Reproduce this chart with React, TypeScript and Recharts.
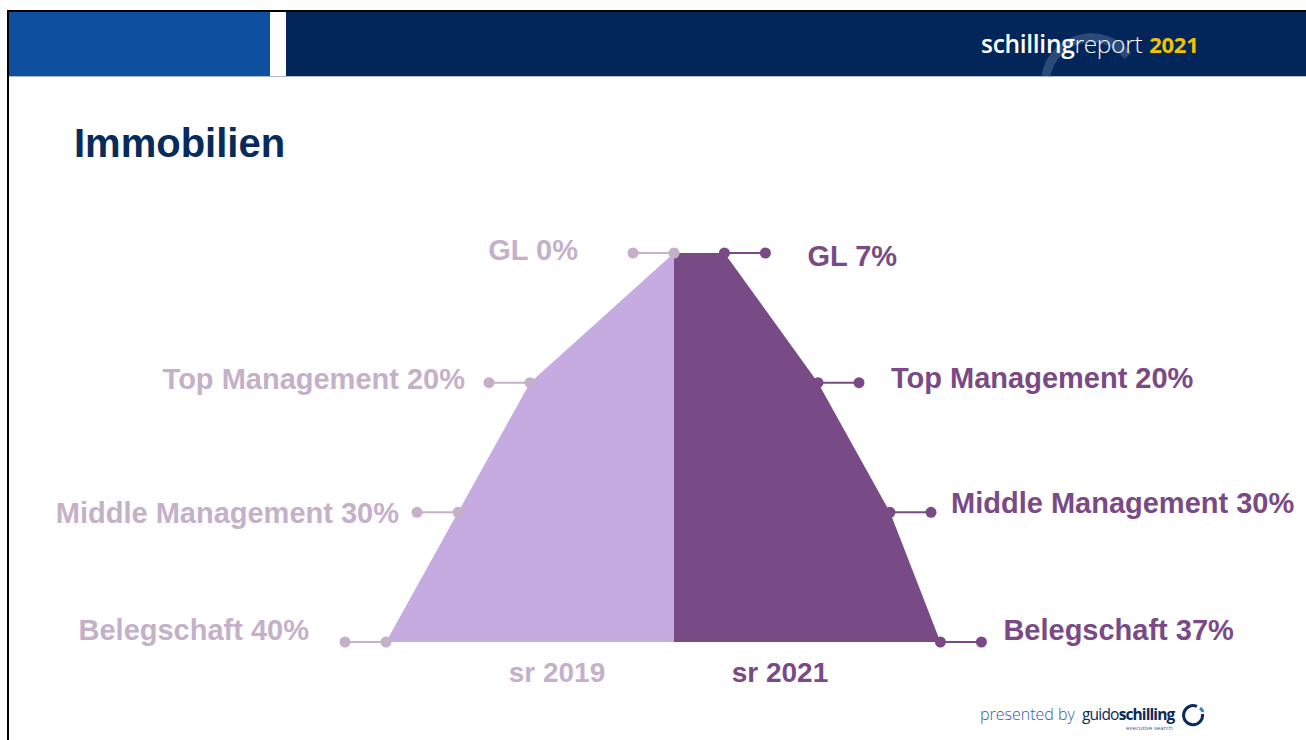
import React from 'react';
import { ComposedChart, Area, Line, XAxis, YAxis } from 'recharts';

const categories = ['GL', 'Top Management', 'Middle Management', 'Belegschaft'];
const sr2019 = [0, 20, 30, 40];
const sr2021 = [7, 20, 30, 37];
const seriesNames = ['sr 2019', 'sr 2021'];

const data = categories.map((c, i) => ({
  level: c,
  left: -sr2019[i],
  right: sr2021[i],
}));

// label layout tweaks (gap from outer dot, vertical shift) per row
const labelLayout = {
  left: { gap: [55, 24, 18, 36], dy: [-3, -4, 1, -12] },
  right: { gap: [42, 32, 20, 22], dy: [3, -5, -9, -12] },
};

const FONT = '"Liberation Sans", Arial, Helvetica, sans-serif';
const leftFill = '#c5abe0';
const rightFill = '#784b87';
const leftInk = '#c4b1c9';
const rightInk = '#7a4a86';

const makeDot = (side: 'left' | 'right') => (props: any) => {
  const { cx, cy, index } = props;
  if (cx == null || cy == null) return <g key={`${side}-${index}`} />;
  const dir = side === 'left' ? -1 : 1;
  const ox = cx + dir * 41;
  const color = side === 'left' ? leftInk : rightInk;
  const val = side === 'left' ? sr2019[index] : sr2021[index];
  const lay = labelLayout[side];
  return (
    <g key={`${side}-${index}`}>
      <line x1={cx} y1={cy} x2={ox} y2={cy} stroke={color} strokeWidth={2} />
      <circle cx={cx} cy={cy} r={5.5} fill={color} />
      <circle cx={ox} cy={cy} r={5.5} fill={color} />
      <text
        x={ox + dir * lay.gap[index]}
        y={cy + lay.dy[index]}
        textAnchor={side === 'left' ? 'end' : 'start'}
        dominantBaseline="central"
        fontSize={29}
        fontWeight="bold"
        fontFamily={FONT}
        fill={color}
      >
        {`${categories[index]} ${val}%`}
      </text>
    </g>
  );
};

export default function App() {
  return (
    <div style={{ position: 'absolute', left: 0, top: 0, width: 1306, height: 740, overflow: 'hidden', background: '#fff', fontFamily: FONT }}>
      {/* frame */}
      <div style={{ position: 'absolute', left: 7, top: 10, width: 1310, height: 740, borderLeft: '2px solid #000', borderTop: '2px solid #000' }} />
      {/* header */}
      <div style={{ position: 'absolute', left: 9, top: 12, width: 261, height: 64, background: '#0e4fa0' }} />
      <div style={{ position: 'absolute', left: 286, top: 12, width: 1020, height: 64, background: '#03265a' }} />
      <div style={{ position: 'absolute', left: 9, top: 76, width: 1297, height: 1, background: '#aebbd0' }} />
      <svg style={{ position: 'absolute', left: 0, top: 0 }} width={1306} height={80}>
        <path d="M 1046 76 A 46 46 0 0 1 1128 56" fill="none" stroke="#4a6a96" strokeOpacity={0.55} strokeWidth={9} />
      </svg>
      <div style={{ position: 'absolute', left: 981, top: 27, fontFamily: '"Open Sans", "Noto Sans", sans-serif', fontSize: 24.5, color: '#fff', whiteSpace: 'nowrap', letterSpacing: -0.3 }}>
        <span style={{ fontWeight: 600 }}>schilling</span>
        <span style={{ fontWeight: 300 }}>report</span>
        <span style={{ fontWeight: 700, color: '#f2c300', fontSize: 22, marginLeft: 7 }}>2021</span>
      </div>
      {/* title */}
      <div style={{ position: 'absolute', left: 74, top: 121, fontSize: 40, fontWeight: 'bold', color: '#072b5c', whiteSpace: 'nowrap' }}>Immobilien</div>

      <div style={{ position: 'absolute', left: 0, top: 0 }}>
        <ComposedChart
          layout="vertical"
          width={1306}
          height={740}
          data={data}
          margin={{ top: 253, right: 200, bottom: 98, left: 242 }}
        >
          <XAxis type="number" domain={[-60, 60]} hide />
          <YAxis type="category" dataKey="level" scale="point" hide />
          <Area dataKey="left" type="linear" stroke="none" fill={leftFill} fillOpacity={1} isAnimationActive={false} dot={false} activeDot={false} />
          <Area dataKey="right" type="linear" stroke="none" fill={rightFill} fillOpacity={1} isAnimationActive={false} dot={false} activeDot={false} />
          <Line dataKey="left" stroke="none" isAnimationActive={false} dot={makeDot('left')} activeDot={false} />
          <Line dataKey="right" stroke="none" isAnimationActive={false} dot={makeDot('right')} activeDot={false} />
        </ComposedChart>
      </div>

      {/* series names */}
      <div style={{ position: 'absolute', left: 457, width: 200, top: 657, textAlign: 'center', fontSize: 28, fontWeight: 'bold', color: leftInk }}>{seriesNames[0]}</div>
      <div style={{ position: 'absolute', left: 680, width: 200, top: 657, textAlign: 'center', fontSize: 28, fontWeight: 'bold', color: rightInk }}>{seriesNames[1]}</div>

      {/* footer */}
      <div style={{ position: 'absolute', left: 980, top: 703, whiteSpace: 'nowrap', fontFamily: '"Open Sans", "Noto Sans", sans-serif' }}>
        <span style={{ fontSize: 16, color: '#2f5ca6', fontWeight: 300 }}>presented by</span>
      </div>
      <div style={{ position: 'absolute', left: 1082, top: 703, whiteSpace: 'nowrap', fontFamily: '"Open Sans", "Noto Sans", sans-serif' }}>
        <span style={{ fontSize: 15.5, color: '#0a2a5a', letterSpacing: -0.8 }}>guido</span>
        <span style={{ fontSize: 15.5, color: '#0a2a5a', fontWeight: 700, letterSpacing: -0.9 }}>schilling</span>
      </div>
      <div style={{ position: 'absolute', left: 1126, top: 724, fontSize: 6, color: '#2f5ca6', fontFamily: '"Open Sans", sans-serif', whiteSpace: 'nowrap' }}>executive search</div>
      <svg style={{ position: 'absolute', left: 1180, top: 702 }} width={28} height={28}>
        <path d="M 17 4.5 A 9.5 9.5 0 1 0 22.5 12" fill="none" stroke="#0a2a5a" strokeWidth={3} />
        <path d="M 20 6 A 9.5 9.5 0 0 1 23 10" fill="none" stroke="#3f7fd0" strokeWidth={3} />
      </svg>
    </div>
  );
}
